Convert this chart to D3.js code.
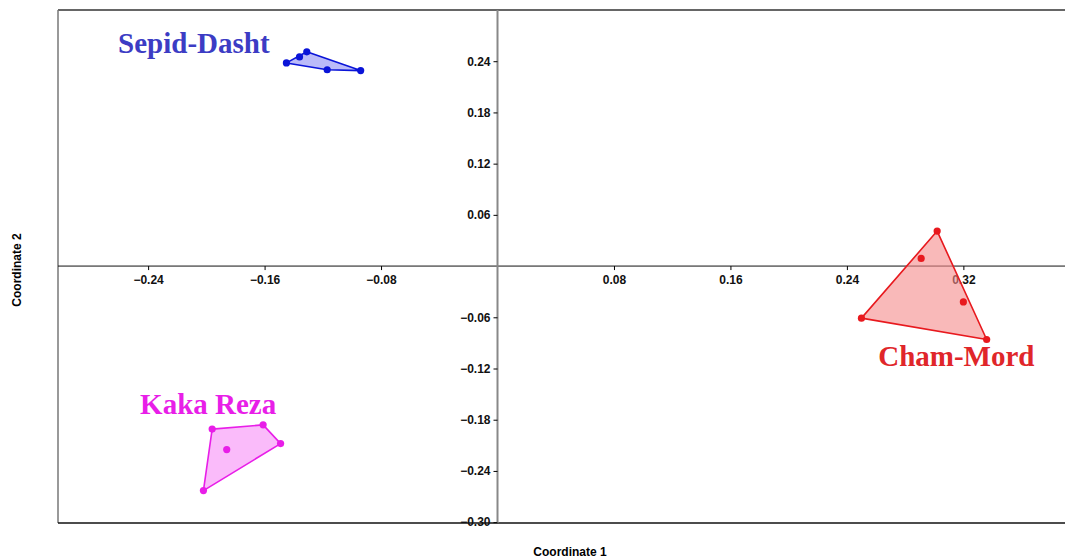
<!DOCTYPE html>
<html>
<head>
<meta charset="utf-8">
<script src="https://cdn.jsdelivr.net/npm/d3@7"></script>
<style>
  body { margin: 0; background: #fff; }
  svg { display: block; }
  .tick text { font-family: "Liberation Sans", Arial, sans-serif; font-weight: bold; font-size: 12px; fill: #111; }
</style>
</head>
<body>
<svg id="chart" width="1065" height="558"></svg>
<script>
// group names and point coordinates
const groups = ["Sepid-Dasht", "Kaka Reza", "Cham-Mord"];
const sepidX = [-0.145, -0.136, -0.131, -0.117, -0.094];
const sepidY = [0.238, 0.245, 0.251, 0.230, 0.229];
const kakaX = [-0.196, -0.161, -0.149, -0.186, -0.202];
const kakaY = [-0.191, -0.186, -0.208, -0.215, -0.263];
const chamX = [0.302, 0.291, 0.320, 0.336, 0.250];
const chamY = [0.041, 0.009, -0.042, -0.086, -0.061];
const xTicks = [-0.24, -0.16, -0.08, 0.08, 0.16, 0.24, 0.32];
const yTicks = [0.24, 0.18, 0.12, 0.06, -0.06, -0.12, -0.18, -0.24, -0.30];

const colors = { "Sepid-Dasht": "#0a14d8", "Kaka Reza": "#e81ee8", "Cham-Mord": "#e8191e" };
const fills = { "Sepid-Dasht": "#8e8ef5", "Kaka Reza": "#f78ef7", "Cham-Mord": "#f58a8a" };
const labelColors = { "Sepid-Dasht": "#3c3cc4", "Kaka Reza": "#e81ee8", "Cham-Mord": "#e0262a" };

const seriesX = [sepidX, kakaX, chamX];
const seriesY = [sepidY, kakaY, chamY];

const svg = d3.select("#chart");
const pLeft = 58, pRight = 1066, pTop = 10, pBottom = 523;

const x = d3.scaleLinear().domain([-0.3019, 0.3905]).range([pLeft, pRight]);
const y = d3.scaleLinear().domain([-0.301, 0.3]).range([pBottom, pTop]);

// frame
svg.append("line").attr("x1", pLeft).attr("x2", pRight).attr("y1", pTop).attr("y2", pTop)
  .attr("stroke", "#333").attr("stroke-width", 1.5);
svg.append("line").attr("x1", pLeft).attr("x2", pLeft).attr("y1", pTop).attr("y2", pBottom)
  .attr("stroke", "#777").attr("stroke-width", 1.5);
svg.append("line").attr("x1", pLeft).attr("x2", pRight).attr("y1", pBottom).attr("y2", pBottom)
  .attr("stroke", "#111").attr("stroke-width", 1.5);

// axes through origin
const xAxis = d3.axisBottom(x).tickValues(xTicks).tickSize(4).tickPadding(5)
  .tickFormat(d3.format(".2f"));
const gx = svg.append("g").attr("transform", `translate(0,${y(0)})`).call(xAxis);
gx.select(".domain").attr("d", `M${pLeft},0H${pRight}`).attr("stroke", "#111");

const yAxis = d3.axisLeft(y).tickValues(yTicks).tickSize(4).tickPadding(3)
  .tickFormat(d3.format(".2f"));
const gy = svg.append("g").attr("transform", `translate(${x(0)},0)`).call(yAxis);
gy.select(".domain").attr("d", `M0,${pTop}V${pBottom}`).attr("stroke", "#888").attr("stroke-width", 2);

// axis titles
svg.append("text").attr("x", 570).attr("y", 556).attr("text-anchor", "middle")
  .attr("font-family", "Liberation Sans, Arial, sans-serif").attr("font-weight", "bold")
  .attr("font-size", 12).text("Coordinate 1");
svg.append("text").attr("transform", "translate(21,270) rotate(-90)").attr("text-anchor", "middle")
  .attr("font-family", "Liberation Sans, Arial, sans-serif").attr("font-weight", "bold")
  .attr("font-size", 12).text("Coordinate 2");

// hulls and points
const labelPos = { "Sepid-Dasht": [-0.2606, 0.2497], "Kaka Reza": [-0.2455, -0.1735], "Cham-Mord": [0.2615, -0.117] };

groups.forEach(function (g, i) {
  const pts = seriesX[i].map(function (v, j) { return [x(v), y(seriesY[i][j])]; });
  const hull = d3.polygonHull(pts);
  svg.append("path").attr("d", "M" + hull.join("L") + "Z")
    .attr("fill", fills[g]).attr("fill-opacity", 0.6)
    .attr("stroke", colors[g]).attr("stroke-width", 1.6).attr("stroke-linejoin", "round");
  svg.selectAll(null).data(pts).enter().append("circle")
    .attr("cx", function (d) { return d[0]; })
    .attr("cy", function (d) { return d[1]; })
    .attr("r", 3.6)
    .attr("fill", colors[g]);
  svg.append("text")
    .attr("x", x(labelPos[g][0])).attr("y", y(labelPos[g][1]))
    .attr("font-family", "Liberation Serif, Times New Roman, serif").attr("font-weight", "bold")
    .attr("font-size", 29).attr("fill", labelColors[g]).text(g);
});
</script>
</body>
</html>
